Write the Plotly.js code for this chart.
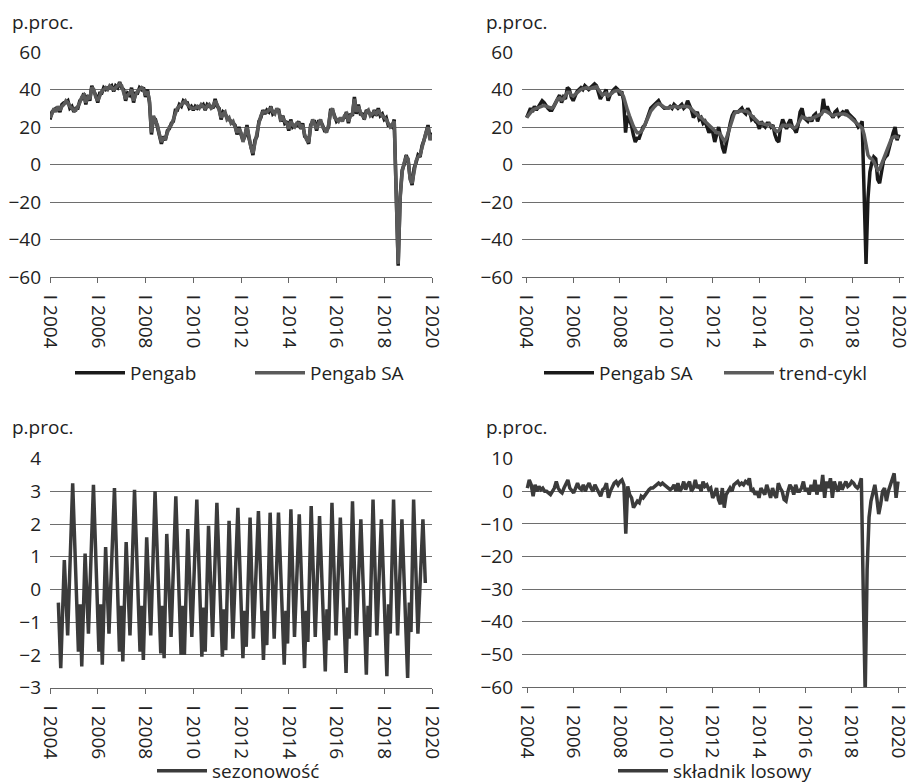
<!DOCTYPE html>
<html><head><meta charset="utf-8">
<script src="https://cdn.plot.ly/plotly-3.0.1.min.js"></script>
<style>html,body{margin:0;padding:0;background:#fff;overflow:hidden}#chart{width:914px;height:800px}</style>
</head><body><div id="chart"></div>
<script>
const startYear = 2004;

const pengab = [
24,28,29,30,30,28,32,33,33,34,30,31,
28,30,30,34,35,38,32,37,34,42,39,37,
33,38,38,41,40,41,41,42,39,42,41,44,
41,40,34,38,37,41,33,38,38,41,40,41,
36,40,33,16,25,24,20,15,11,15,13,18,
19,22,23,29,29,32,31,34,33,33,30,31,
29,31,30,31,31,32,29,32,31,31,30,35,
31,30,24,28,27,25,24,23,22,21,16,20,
16,13,15,21,14,10,5,13,15,23,25,29,
27,29,28,31,27,28,29,29,23,26,22,23,
18,24,20,21,21,23,19,22,15,14,11,21,
23,23,18,23,23,21,18,18,20,29,29,26,
23,24,24,24,25,28,22,27,26,36,27,32,
27,27,24,29,28,27,26,29,26,30,26,27,
24,25,21,21,20,24,-14,-54,-17,-3,0,5,
2,-7,-11,-2,1,5,4,10,13,18,21,14,
17];

const pengabSA = [
25,27,30,28,31,29,31,32,34,33,31,30,
29,29,31,33,36,37,33,36,35,41,40,36,
34,37,39,40,41,40,42,41,40,41,42,43,
42,39,35,37,38,40,34,37,39,40,41,40,
37,39,34,17,26,23,21,16,12,14,14,17,
20,21,24,28,30,31,32,33,34,32,31,30,
30,30,31,30,32,31,30,31,32,30,31,34,
32,29,25,27,28,24,25,22,23,20,17,19,
17,12,16,20,15,9,6,12,16,22,26,28,
28,28,29,30,28,27,30,28,24,25,23,22,
19,23,21,20,22,22,20,21,16,13,12,20,
24,22,19,22,24,20,19,17,21,28,30,25,
24,23,25,23,26,27,23,26,27,35,28,31,
28,26,25,28,29,26,27,28,27,29,27,26,
25,24,22,20,21,23,-15,-53,-18,-4,1,4,
3,-8,-10,-3,2,4,5,9,14,17,20,13,
16];

const trendCykl = [
25,26.5,28,29,29.5,30,30.5,31,31.5,31.5,31,30.5,
30,30,31,33,35,35.5,34.5,35,36.5,38.5,38.5,37,
36.5,37.5,38.5,39.5,40,40.5,41,41,40.5,40.5,41,41.5,
41.5,40,38,37,37.5,38,36.5,37,38,39,39.5,39.5,
39,38,36,32,29,26,23,20.5,18.5,17,17,17.5,
19,21,23.5,26,28.5,30,31,32,32.5,32,31,30.5,
30,30,30.5,30.5,31,31,30.5,30.5,31,31,31,31,
30.5,29.5,28,27,26.5,25.5,25,24,23,22,20.5,19.5,
18.5,17.5,17,17,16,14,12.5,14,17.5,21.5,25,27,
28,28,28.5,28.5,28.5,28.5,28,27,25.5,24.5,23.5,23,
22,22,21.5,21,21,21.5,21,20,18.5,17.5,18,19.5,
21,21,20.5,21,21,20,19.5,20,22,24.5,25.5,25,
24.5,24,24,24.5,25,25.5,26,26.5,27,28.5,28.5,28,
27.5,26.5,26,26.5,27,27,27,27,27,26.5,26,25,
24,23,22,21,20.5,19.5,16,10,5,3.5,3,1.5,
-1,-3,-2.5,0,3,6,8.5,11,13.5,14.5,15,14.5,
14.5];

const skladnikLosowy = [
1,3.5,2,-1.5,2,0,1.5,0.5,1,0,0,-0.5,
-1,0,1,3,1,0,-0.5,1,2,3.5,1,0,
-0.5,1,2.5,1,0.5,2,0,1.5,2.5,1,0,2,
1,0,-1.5,0.5,1,2.5,-2,0,1.5,2.5,3,2,
3,3.5,2,-13,1.5,-1,-2,-5,-4,-3,-3.5,-1.5,
-2,-1,0,0.5,1,1,1.5,2,2.5,2,2.5,2,
1.5,1,0.5,1,2,0,2.5,0,1,3,0.5,2,
3,0,1,3.5,1,2,0,3,1.5,2,0.5,1,
-2,-1,1,-2.5,-4,1,-5,-1,0,1,0,2,
2.5,3,2,2.5,2,3,2.5,4,0,0.5,-1,0,
-2,1,0,-1,2,0,-2,1,-1,-2,2.5,1,
0,-2.5,-3,0,2,1,-1,2,0,0,1,3,
0,1,-1,2,0,3.5,-1,2,0,5,-2,3,
1,4,-2,3,1,0,3,0.5,2,3,1.5,2,
3,2.5,1.5,1,2,4,-31,-62,-24,-8,-3,0,
2,-2,-7,-4,0,1,-3,0,2,4,5.5,-2,
3];

const sezonX = [
2004.35,2004.45,2004.60,2004.74,2004.95,2005.19,2005.26,2005.33,2005.47,2005.61,
2005.82,2006.05,2006.12,2006.19,2006.33,2006.47,2006.70,2006.91,2006.98,2007.05,
2007.19,2007.35,2007.54,2007.77,2007.84,2007.91,2008.05,2008.22,2008.40,2008.64,
2008.71,2008.78,2008.89,2009.07,2009.27,2009.49,2009.56,2009.63,2009.77,2009.94,
2010.15,2010.36,2010.43,2010.50,2010.64,2010.81,2010.99,2011.22,2011.29,2011.36,
2011.50,2011.66,2011.87,2012.08,2012.15,2012.22,2012.38,2012.52,2012.73,2012.94,
2013.01,2013.08,2013.22,2013.39,2013.57,2013.81,2013.88,2013.95,2014.09,2014.24,
2014.44,2014.66,2014.73,2014.80,2014.94,2015.11,2015.29,2015.53,2015.60,2015.67,
2015.81,2015.98,2016.16,2016.40,2016.47,2016.53,2016.67,2016.83,2017.02,2017.25,
2017.32,2017.39,2017.53,2017.69,2017.88,2018.11,2018.18,2018.25,2018.39,2018.56,
2018.74,2018.98,2019.05,2019.12,2019.23,2019.41,2019.62,2019.72];

const sezonowosc = [
-0.4,-2.4,0.9,-1.4,3.25,-1.9,-0.45,-2.35,1.1,-1.35,
3.2,-1.9,-0.45,-2.3,1.3,-1.35,3.1,-1.9,-0.5,-2.2,
1.45,-1.4,3.05,-1.9,-0.5,-2.15,1.6,-1.4,3.0,-1.95,
-0.5,-2.1,1.7,-1.45,2.85,-2.0,-0.5,-2.0,1.85,-1.45,
2.75,-2.05,-0.55,-1.9,1.95,-1.45,2.65,-2.05,-0.6,-1.85,
2.1,-1.5,2.5,-2.1,-0.65,-1.75,2.2,-1.5,2.4,-2.15,
-0.65,-1.7,2.35,-1.5,2.35,-2.3,-0.65,-1.65,2.45,-1.45,
2.3,-2.4,-0.65,-1.6,2.55,-1.45,2.25,-2.5,-0.6,-1.55,
2.65,-1.4,2.2,-2.55,-0.55,-1.5,2.7,-1.4,2.15,-2.6,
-0.5,-1.45,2.75,-1.4,2.15,-2.65,-0.45,-1.35,2.75,-1.4,
2.15,-2.7,-0.4,-1.3,2.75,-1.35,2.15,0.2];

const tickYears = [2004,2006,2008,2010,2012,2014,2016,2018,2020];
const tickLabels = tickYears.map(y => 'I ' + y);
const yTicksTop = [-60,-40,-20,0,20,40,60];
const yTicksSeas = [-3,-2,-1,0,1,2,3,4];
const yTicksIrr = [-60,-50,-40,-30,-20,-10,0,10];
const months = pengabSA.map((_, i) => startYear + i / 12);

const W = 914, H = 800;
const FONT = 'Open Sans, Noto Sans, sans-serif';
const FS = 19;
const TXT = '#222';
const px = v => v / W;
const py = v => 1 - v / H;
const lab = v => (v < 0 ? '\u2212' + Math.abs(v) : String(v));

const xBase = {
  tickvals: tickYears, ticktext: tickLabels, tickangle: 90,
  ticks: 'outside', ticklen: 5, tickcolor: '#666', tickwidth: 1,
  showline: true, linecolor: '#666', linewidth: 1,
  showgrid: false, zeroline: false, ticklabeloverflow: 'allow',
  tickfont: {family: FONT, size: FS, color: TXT},
  ticklabelstandoff: 8
};
const yBase = {
  showgrid: true, gridcolor: '#6e6e6e', gridwidth: 1,
  zeroline: false, showline: false, ticks: '',
  tickfont: {family: FONT, size: FS, color: TXT},
  ticklabelstandoff: 8
};
const yAx = ticks => ({tickvals: ticks, ticktext: ticks.map(lab)});
const legBase = {
  orientation: 'h', xanchor: 'left', yanchor: 'middle',
  bgcolor: 'rgba(0,0,0,0)', borderwidth: 0, itemwidth: 50,
  font: {family: FONT, size: FS, color: TXT}, itemclick: false
};

const traces = [
  {x: months, y: pengab, xaxis: 'x', yaxis: 'y', name: 'Pengab', mode: 'lines',
   line: {color: '#1a1a1a', width: 3.5}, legend: 'legend'},
  {x: months, y: pengabSA, xaxis: 'x', yaxis: 'y', name: 'Pengab SA', mode: 'lines',
   line: {color: '#5a5a5a', width: 3.5}, legend: 'legend2'},
  {x: months, y: pengabSA, xaxis: 'x2', yaxis: 'y2', name: 'Pengab SA', mode: 'lines',
   line: {color: '#1a1a1a', width: 3.5}, legend: 'legend3'},
  {x: months, y: trendCykl, xaxis: 'x2', yaxis: 'y2', name: 'trend-cykl', mode: 'lines',
   line: {color: '#5c5c5c', width: 3.5}, legend: 'legend4'},
  {x: sezonX, y: sezonowosc, xaxis: 'x3', yaxis: 'y3', name: 'sezonowość', mode: 'lines',
   line: {color: '#3b3b3b', width: 3.5}, legend: 'legend5'},
  {x: months, y: skladnikLosowy, xaxis: 'x4', yaxis: 'y4', name: 'składnik losowy', mode: 'lines',
   line: {color: '#3b3b3b', width: 3.5}, legend: 'legend6'}
];

const ann = (text, x, y) => ({text, x: px(x), y: py(y), xref: 'paper', yref: 'paper',
  xanchor: 'left', yanchor: 'middle', showarrow: false, font: {family: FONT, size: FS, color: TXT}});

const layout = {
  width: W, height: H, margin: {l: 0, r: 0, t: 0, b: 0},
  paper_bgcolor: '#fff', plot_bgcolor: '#fff', showlegend: true,
  xaxis:  Object.assign({}, xBase, {domain: [px(50), px(432)], range: [2004, 2020], anchor: 'y'}),
  yaxis:  Object.assign({}, yBase, yAx(yTicksTop), {domain: [py(277), py(52)], range: [-60, 60], anchor: 'x'}),
  xaxis2: Object.assign({}, xBase, {domain: [px(522), px(904)], range: [2003.8, 2020.215], anchor: 'y2'}),
  yaxis2: Object.assign({}, yBase, yAx(yTicksTop), {domain: [py(277), py(52)], range: [-60, 60], anchor: 'x2'}),
  xaxis3: Object.assign({}, xBase, {domain: [px(50), px(432)], range: [2004, 2020], anchor: 'y3'}),
  yaxis3: Object.assign({}, yBase, yAx(yTicksSeas), {domain: [py(687.7), py(458.7)], range: [-3, 4], anchor: 'x3'}),
  xaxis4: Object.assign({}, xBase, {domain: [px(522), px(906)], range: [2003.77, 2020.345], anchor: 'y4'}),
  yaxis4: Object.assign({}, yBase, yAx(yTicksIrr), {domain: [py(687), py(458.7)], range: [-60, 10], anchor: 'x4'}),
  legend:  Object.assign({}, legBase, {x: px(70), y: py(373)}),
  legend2: Object.assign({}, legBase, {x: px(250), y: py(373)}),
  legend3: Object.assign({}, legBase, {x: px(539), y: py(373)}),
  legend4: Object.assign({}, legBase, {x: px(719), y: py(373)}),
  legend5: Object.assign({}, legBase, {x: px(152), y: py(771)}),
  legend6: Object.assign({}, legBase, {x: px(613), y: py(771)}),
  annotations: [
    ann('p.proc.', 10, 22), ann('p.proc.', 484, 22),
    ann('p.proc.', 10, 427), ann('p.proc.', 484, 427)
  ]
};

Plotly.newPlot('chart', traces, layout, {staticPlot: true, displayModeBar: false});
</script>
</body></html>
